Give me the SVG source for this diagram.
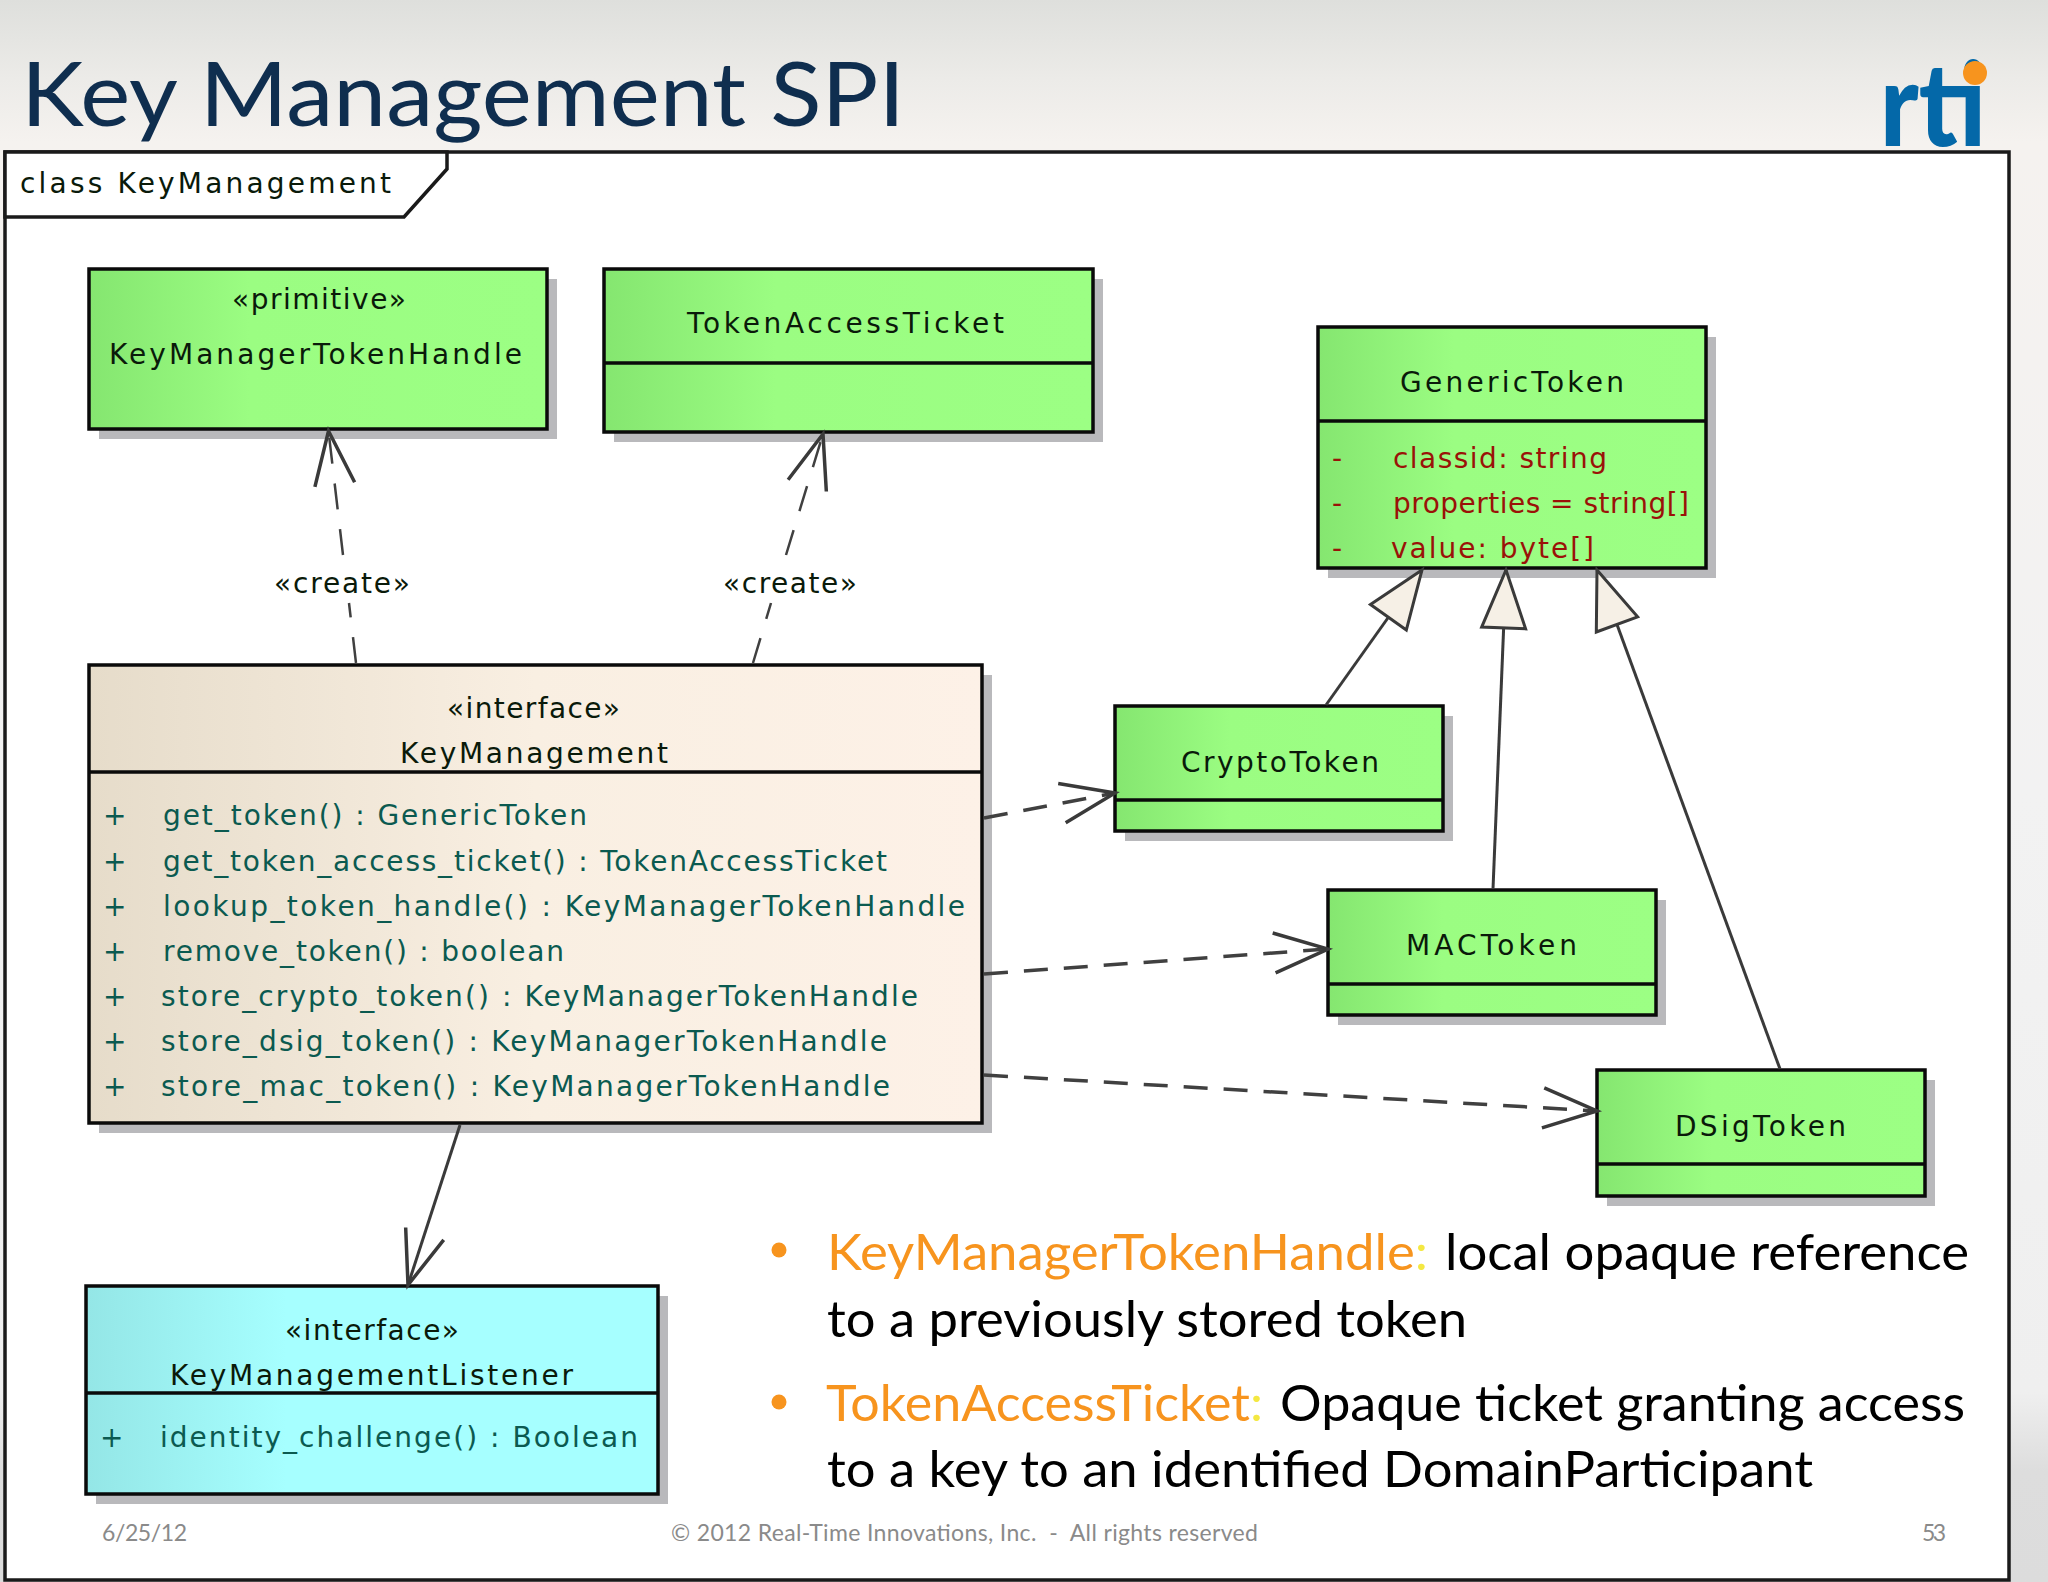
<svg xmlns="http://www.w3.org/2000/svg" width="2048" height="1582" viewBox="0 0 2048 1582">
<defs>
<linearGradient id="bg" x1="0" y1="0" x2="0" y2="1"><stop offset="0" stop-color="#dedfdc"/><stop offset="0.05" stop-color="#ecebe8"/><stop offset="0.09" stop-color="#f5f2ef"/><stop offset="0.5" stop-color="#f2f2f2"/><stop offset="0.88" stop-color="#efefef"/><stop offset="0.93" stop-color="#dddddd"/><stop offset="1" stop-color="#dcdcdc"/></linearGradient>
<linearGradient id="green"><stop offset="0" stop-color="#85e670"/><stop offset="0.35" stop-color="#9bfd82"/><stop offset="1" stop-color="#9cff84"/></linearGradient>
<linearGradient id="beige"><stop offset="0" stop-color="#e6dcca"/><stop offset="0.5" stop-color="#f9efe2"/><stop offset="1" stop-color="#fdf1e7"/></linearGradient>
<linearGradient id="cyan"><stop offset="0" stop-color="#94e6e6"/><stop offset="0.35" stop-color="#a6ffff"/><stop offset="1" stop-color="#a6ffff"/></linearGradient>
<marker id="open" markerUnits="userSpaceOnUse" markerWidth="64" markerHeight="50" refX="60" refY="25" orient="auto" overflow="visible"><path d="M6,5 L60,25 L6,45" fill="none" stroke="#3a3a3a" stroke-width="3.5"/></marker>
<marker id="tri" markerUnits="userSpaceOnUse" markerWidth="66" markerHeight="50" refX="62" refY="25" orient="auto" overflow="visible"><path d="M4,3 L62,25 L4,47 Z" fill="#f6f0e6" stroke="#3a3a3a" stroke-width="3"/></marker>
</defs>
<style>
.uml{font-family:"DejaVu Sans","Liberation Sans",sans-serif;font-size:28px;fill:#0a1a0a}
.m{fill:#0b5a50}
.r{fill:#9a1208}
.box{stroke:#0a0a0a;stroke-width:3.5}
.shadow{fill:#b9b9bc}
.sep{stroke:#0a0a0a;stroke-width:3.5}
.dash{fill:none;stroke:#404040;stroke-width:3.5;stroke-dasharray:24 16}
.thin{fill:none;stroke:#404040;stroke-width:2.5;stroke-dasharray:26 20}
.solid{fill:none;stroke:#3a3a3a;stroke-width:3}
.b{font-family:Lato,"Liberation Sans",sans-serif;font-size:50px;fill:#000}
.o{fill:#f7941e}
.y{fill:#f4e842}
.f{font-family:Lato,"Liberation Sans",sans-serif;font-size:23px;fill:#8a8a8a}
</style>
<rect width="2048" height="1582" fill="url(#bg)"/>
<text id="title" x="21" y="126" font-family="Lato, 'Liberation Sans', sans-serif" font-size="90" fill="#0f2e4f" textLength="884" lengthAdjust="spacingAndGlyphs">Key Management SPI</text>
<g id="logo">
<text x="1880" y="146" font-family="Lato, 'Liberation Sans', sans-serif" font-weight="900" font-size="116" fill="#0468a8" textLength="106" lengthAdjust="spacingAndGlyphs">rti</text>
<ellipse cx="1975" cy="73" rx="12" ry="12" fill="#f7941e"/>
</g>
<g id="frame">
<rect x="5" y="152" width="2004" height="1428" fill="#fff" stroke="#1a1a1a" stroke-width="3.5"/>
<path d="M5,152 H447 V169 L404,217 H5 Z" fill="#fff" stroke="#1a1a1a" stroke-width="3.5"/>
<text class="uml" x="20" y="193" textLength="371" fill="#1a1a1a">class KeyManagement</text>
</g>
<g id="KeyManagerTokenHandle">
<rect class="shadow" x="99" y="279" width="458" height="160"/>
<rect class="box" x="89" y="269" width="458" height="160" fill="url(#green)"/>
<text class="uml" x="232" y="309" textLength="174">«primitive»</text>
<text class="uml" x="109" y="364" textLength="413">KeyManagerTokenHandle</text>
</g>
<g id="TokenAccessTicket">
<rect class="shadow" x="614" y="279" width="489" height="163"/>
<rect class="box" x="604" y="269" width="489" height="163" fill="url(#green)"/>
<line class="sep" x1="604" y1="363" x2="1093" y2="363"/>
<text class="uml" x="687" y="333" textLength="317">TokenAccessTicket</text>
</g>
<g id="GenericToken">
<rect class="shadow" x="1328" y="337" width="388" height="241"/>
<rect class="box" x="1318" y="327" width="388" height="241" fill="url(#green)"/>
<line class="sep" x1="1318" y1="421" x2="1706" y2="421"/>
<text class="uml" x="1400" y="392" textLength="224">GenericToken</text>
<text class="uml r" x="1332" y="468">-</text>
<text class="uml r" x="1393" y="468" textLength="214">classid:  string</text>
<text class="uml r" x="1332" y="513">-</text>
<text class="uml r" x="1393" y="513" textLength="296">properties = string[]</text>
<text class="uml r" x="1332" y="558">-</text>
<text class="uml r" x="1391" y="558" textLength="203">value:  byte[]</text>
</g>
<g id="KeyManagement">
<rect class="shadow" x="99" y="675" width="893" height="458"/>
<rect class="box" x="89" y="665" width="893" height="458" fill="url(#beige)"/>
<line class="sep" x1="89" y1="772" x2="982" y2="772"/>
<text class="uml" x="447" y="718" textLength="173">«interface»</text>
<text class="uml" x="400" y="763" textLength="268">KeyManagement</text>
<g class="ms">
<text class="uml m" x="103" y="825">+</text><text class="uml m" x="163" y="825" textLength="424">get_token() : GenericToken</text>
<text class="uml m" x="103" y="871">+</text><text class="uml m" x="163" y="871" textLength="724">get_token_access_ticket() : TokenAccessTicket</text>
<text class="uml m" x="103" y="916">+</text><text class="uml m" x="163" y="916" textLength="802">lookup_token_handle() : KeyManagerTokenHandle</text>
<text class="uml m" x="103" y="961">+</text><text class="uml m" x="163" y="961" textLength="401">remove_token() : boolean</text>
<text class="uml m" x="103" y="1006">+</text><text class="uml m" x="161" y="1006" textLength="757">store_crypto_token() : KeyManagerTokenHandle</text>
<text class="uml m" x="103" y="1051">+</text><text class="uml m" x="161" y="1051" textLength="726">store_dsig_token() : KeyManagerTokenHandle</text>
<text class="uml m" x="103" y="1096">+</text><text class="uml m" x="161" y="1096" textLength="729">store_mac_token() : KeyManagerTokenHandle</text>
</g>
</g>
<g id="KeyManagementListener">
<rect class="shadow" x="96" y="1296" width="572" height="208"/>
<rect class="box" x="86" y="1286" width="572" height="208" fill="url(#cyan)"/>
<line class="sep" x1="86" y1="1393" x2="658" y2="1393"/>
<text class="uml" x="285" y="1340" textLength="174">«interface»</text>
<text class="uml" x="170" y="1385" textLength="403">KeyManagementListener</text>
<text class="uml m" x="100" y="1447">+</text>
<text class="uml m" x="160" y="1447" textLength="478">identity_challenge() : Boolean</text>
</g>
<g id="CryptoToken">
<rect class="shadow" x="1125" y="716" width="328" height="125"/>
<rect class="box" x="1115" y="706" width="328" height="125" fill="url(#green)"/>
<line class="sep" x1="1115" y1="800" x2="1443" y2="800"/>
<text class="uml" x="1181" y="772" textLength="198">CryptoToken</text>
</g>
<g id="MACToken">
<rect class="shadow" x="1338" y="900" width="328" height="125"/>
<rect class="box" x="1328" y="890" width="328" height="125" fill="url(#green)"/>
<line class="sep" x1="1328" y1="984" x2="1656" y2="984"/>
<text class="uml" x="1406" y="955" textLength="171">MACToken</text>
</g>
<g id="DSigToken">
<rect class="shadow" x="1607" y="1080" width="328" height="126"/>
<rect class="box" x="1597" y="1070" width="328" height="126" fill="url(#green)"/>
<line class="sep" x1="1597" y1="1164" x2="1925" y2="1164"/>
<text class="uml" x="1675" y="1136" textLength="171">DSigToken</text>
</g>
<g id="connectors">
<line class="thin" x1="356" y1="663" x2="349" y2="603"/>
<line class="thin" x1="343" y1="555" x2="328.5" y2="431" marker-end="url(#open)"/>
<line class="thin" x1="753" y1="663" x2="771" y2="603"/>
<line class="thin" x1="786" y1="555" x2="823" y2="434" marker-end="url(#open)"/>
<line class="dash" x1="984" y1="818" x2="1115" y2="793" marker-end="url(#open)"/>
<line class="dash" x1="984" y1="974" x2="1328" y2="949" marker-end="url(#open)"/>
<line class="dash" x1="984" y1="1075" x2="1597" y2="1111" marker-end="url(#open)"/>
<line class="solid" x1="460" y1="1125" x2="408" y2="1285" marker-end="url(#open)"/>
<line class="solid" x1="1326" y1="705" x2="1422" y2="570" marker-end="url(#tri)"/>
<line class="solid" x1="1493" y1="889" x2="1506" y2="570" marker-end="url(#tri)"/>
<line class="solid" x1="1780" y1="1069" x2="1597" y2="570" marker-end="url(#tri)"/>
<text class="uml" x="274" y="593" textLength="136">«create»</text>
<text class="uml" x="723" y="593" textLength="134">«create»</text>
</g>
<g id="notes">
<circle cx="779" cy="1250" r="7.5" fill="#f7941e"/>
<text class="b o" x="827" y="1270" textLength="601" lengthAdjust="spacingAndGlyphs">KeyManagerTokenHandle<tspan class="y">:</tspan></text>
<text class="b" x="1445" y="1270" textLength="524" lengthAdjust="spacingAndGlyphs">local opaque reference</text>
<text class="b" x="827" y="1337" textLength="640" lengthAdjust="spacingAndGlyphs">to a previously stored token</text>
<circle cx="779" cy="1402" r="7.5" fill="#f7941e"/>
<text class="b o" x="826" y="1421" textLength="437" lengthAdjust="spacingAndGlyphs">TokenAccessTicket<tspan class="y">:</tspan></text>
<text class="b" x="1280" y="1421" textLength="685" lengthAdjust="spacingAndGlyphs">Opaque ticket granting access</text>
<text class="b" x="827" y="1487" textLength="986" lengthAdjust="spacingAndGlyphs">to a key to an identified DomainParticipant</text>
</g>
<g id="footer">
<text class="f" x="102" y="1541" textLength="85">6/25/12</text>
<text class="f" x="671" y="1541" textLength="587" xml:space="preserve">© 2012 Real-Time Innovations, Inc.  -  All rights reserved</text>
<text class="f" x="1922" y="1541" textLength="24">53</text>
</g>
</svg>
